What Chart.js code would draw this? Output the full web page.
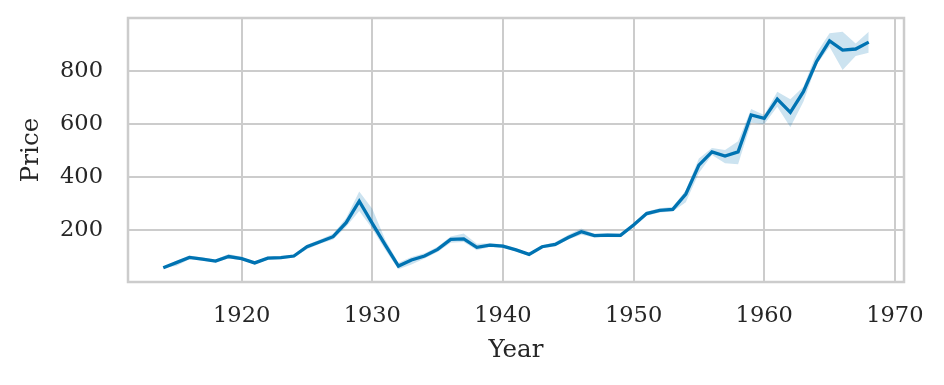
<!DOCTYPE html>
<html>
<head>
<meta charset="utf-8">
<script src="https://cdn.jsdelivr.net/npm/chart.js@4"></script>
<style>
  html, body { margin: 0; padding: 0; background: #fff; }
  canvas { display: block; }
</style>
</head>
<body>
<canvas id="priceChart" width="944" height="385"></canvas>
<script>
const years = [1914, 1915, 1916, 1917, 1918, 1919, 1920, 1921, 1922, 1923, 1924,
  1925, 1926, 1927, 1928, 1929, 1930, 1931, 1932, 1933, 1934, 1935, 1936, 1937,
  1938, 1939, 1940, 1941, 1942, 1943, 1944, 1945, 1946, 1947, 1948, 1949, 1950,
  1951, 1952, 1953, 1954, 1955, 1956, 1957, 1958, 1959, 1960, 1961, 1962, 1963,
  1964, 1965, 1966, 1967, 1968];

const price = [58, 77, 97, 90, 83, 100, 92, 76, 94, 96, 102,
  137, 156, 175, 228, 309, 225, 143, 64, 87, 102, 127, 165, 167,
  135, 143, 139, 125, 108, 137, 146, 172, 194, 179, 181, 180, 219,
  262, 274, 278, 336, 445, 495, 479, 495, 634, 621, 694, 644, 722,
  835, 914, 879, 883, 909];

const priceLow = [58, 64, 90, 84, 78, 93, 86, 70, 88, 90, 96,
  128, 148, 164, 212, 272, 205, 125, 52, 70, 93, 117, 152, 155,
  124, 136, 132, 119, 103, 131, 138, 164, 182, 172, 174, 173, 211,
  254, 266, 270, 305, 415, 483, 452, 448, 605, 599, 665, 588, 684,
  823, 892, 804, 857, 869];

const priceHigh = [58, 84, 104, 96, 89, 110, 99, 79, 100, 102, 108,
  145, 164, 186, 245, 345, 280, 162, 77, 98, 112, 137, 176, 187,
  148, 150, 146, 131, 113, 143, 154, 182, 206, 186, 188, 187, 227,
  270, 282, 288, 350, 470, 510, 502, 535, 657, 634, 722, 693, 741,
  867, 942, 948, 904, 948];

const xTicks = [1920, 1930, 1940, 1950, 1960, 1970];
const yTicks = [200, 400, 600, 800];

const blue = "#0173b2";
const gridColor = "#cccccc";
const textColor = "#262626";
const serif = "'DejaVu Serif', serif";

const pts = arr => years.map((yr, i) => ({ x: yr, y: arr[i] }));

// matplotlib style box around the axes
const frame = {
  id: "frame",
  beforeDatasetsDraw(chart) {
    const a = chart.chartArea;
    const ctx = chart.ctx;
    ctx.save();
    ctx.strokeStyle = gridColor;
    ctx.lineWidth = 2.5;
    ctx.strokeRect(a.left, a.top, a.right - a.left, a.bottom - a.top);
    ctx.restore();
  }
};

new Chart(document.getElementById("priceChart").getContext("2d"), {
  type: "line",
  data: {
    datasets: [
      {
        data: pts(priceLow),
        borderWidth: 0,
        pointRadius: 0,
        fill: false
      },
      {
        data: pts(priceHigh),
        borderWidth: 0,
        pointRadius: 0,
        backgroundColor: "rgba(1, 115, 178, 0.2)",
        fill: "-1"
      },
      {
        data: pts(price),
        borderColor: blue,
        borderWidth: 3.3,
        pointRadius: 0,
        fill: false,
        tension: 0
      }
    ]
  },
  plugins: [frame],
  options: {
    responsive: false,
    animation: false,
    devicePixelRatio: 1,
    layout: { padding: { left: 0, right: 40, top: 18, bottom: 0 } },
    plugins: { legend: { display: false }, tooltip: { enabled: false } },
    scales: {
      x: {
        type: "linear",
        min: 1911.3,
        max: 1970.7,
        afterBuildTicks: s => { s.ticks = xTicks.map(v => ({ value: v })); },
        afterFit: s => { s.height = 103; s.paddingLeft = 0; s.paddingRight = 0; },
        grid: { color: gridColor, lineWidth: 2, drawTicks: false },
        border: { display: false },
        ticks: {
          color: textColor,
          padding: 21,
          maxRotation: 0,
          font: { family: serif, size: 22.5 },
          callback: v => String(v)
        },
        title: {
          display: true,
          text: "Year",
          color: textColor,
          font: { family: serif, size: 24.5 },
          padding: { top: 0, bottom: 20 }
        }
      },
      y: {
        min: 4,
        max: 1000,
        afterBuildTicks: s => { s.ticks = yTicks.map(v => ({ value: v })); },
        afterFit: s => { s.width = 128; s.paddingTop = 0; s.paddingBottom = 0; },
        grid: { color: gridColor, lineWidth: 2, drawTicks: false },
        border: { display: false },
        ticks: {
          color: textColor,
          padding: 25,
          font: { family: serif, size: 22.5 },
          callback: v => String(v)
        },
        title: {
          display: true,
          text: "Price",
          color: textColor,
          font: { family: serif, size: 24.5 },
          padding: { top: 17, bottom: 17 }
        }
      }
    }
  }
});
</script>
</body>
</html>
